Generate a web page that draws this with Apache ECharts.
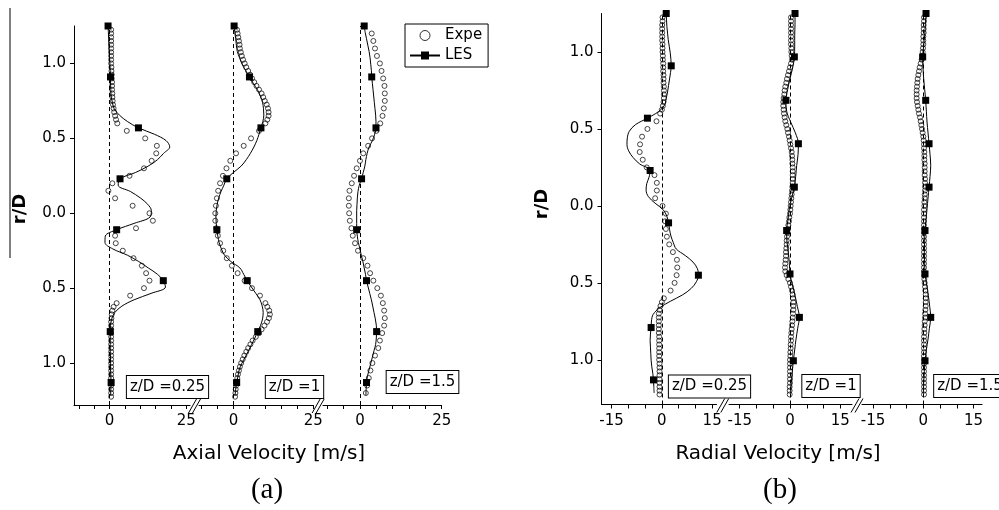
<!DOCTYPE html>
<html>
<head>
<meta charset="utf-8">
<script src="https://cdn.jsdelivr.net/npm/echarts@6/dist/echarts.min.js"></script>
<style>
  html, body { margin: 0; padding: 0; background: #fff; }
  #chart { width: 999px; height: 510px; }
</style>
</head>
<body>
<div id="chart"></div>
<script>
// ---- radial stations (r/D) ----
// experimental stations: fine near the edges, coarser across the jet
const expR_fine = [1.225,1.2,1.175,1.15,1.125,1.1,1.075,1.05,1.025,1.0,0.975,0.95,0.925,0.9,0.875,0.85,0.825,0.8,0.775,0.75,0.725,0.7,0.675,0.65,0.625,
  0.6,0.55,0.5,0.45,0.4,0.35,0.3,0.25,0.2,0.15,0.1,0.05,0,-0.05,-0.1,-0.15,-0.2,-0.25,-0.3,-0.35,-0.4,-0.45,-0.5,-0.55,-0.6,
  -0.625,-0.65,-0.675,-0.7,-0.725,-0.75,-0.775,-0.8,-0.825,-0.85,-0.875,-0.9,-0.925,-0.95,-0.975,-1.0,-1.025,-1.05,-1.075,-1.1,-1.125,-1.15,-1.175,-1.2,-1.225];
const expR_coarse = [1.2,1.15,1.1,1.05,1.0,0.95,0.9,0.85,0.8,0.75,0.7,0.65,0.6,0.55,0.5,0.45,0.4,0.35,0.3,0.25,0.2,0.15,0.1,0.05,0,
  -0.05,-0.1,-0.15,-0.2,-0.25,-0.3,-0.35,-0.4,-0.45,-0.5,-0.55,-0.6,-0.65,-0.7,-0.75,-0.8,-0.85,-0.9,-0.95,-1.0,-1.05,-1.1,-1.15,-1.2];
const expR_dense = [1.225,1.2,1.175,1.15,1.125,1.1,1.075,1.05,1.025,1.0,0.975,0.95,0.925,0.9,0.875,0.85,0.825,0.8,0.775,0.75,
  0.725,0.7,0.675,0.65,0.625,0.6,0.575,0.55,0.525,0.5,0.475,0.45,0.425,0.4,0.375,0.35,0.325,0.3,0.275,0.25,
  0.225,0.2,0.175,0.15,0.125,0.1,0.075,0.05,0.025,0,-0.025,-0.05,-0.075,-0.1,-0.125,-0.15,-0.175,-0.2,-0.225,-0.25,
  -0.275,-0.3,-0.325,-0.35,-0.375,-0.4,-0.425,-0.45,-0.475,-0.5,-0.525,-0.55,-0.575,-0.6,-0.625,-0.65,-0.675,-0.7,-0.725,-0.75,
  -0.775,-0.8,-0.825,-0.85,-0.875,-0.9,-0.925,-0.95,-0.975,-1.0,-1.025,-1.05,-1.075,-1.1,-1.125,-1.15,-1.175,-1.2,-1.225];
// LES stations (a square marker on every 8th / 4th station)
const lesR_a = [1.25,1.2075,1.165,1.1225,1.08,1.0375,0.995,0.9525,0.91,0.8675,0.825,0.7825,0.74,0.6975,0.655,0.6125,0.57,0.5275,0.485,0.4425,
  0.4,0.3575,0.315,0.2725,0.23,0.1875,0.145,0.1025,0.06,0.0175,-0.025,-0.0675,-0.11,-0.1525,-0.195,-0.2375,-0.28,-0.3225,-0.365,-0.4075,
  -0.45,-0.4925,-0.535,-0.5775,-0.62,-0.6625,-0.705,-0.7475,-0.79,-0.8325,-0.875,-0.9175,-0.96,-1.0025,-1.045,-1.0875,-1.13,-1.1725,-1.215];
const lesR_b = [1.25,1.1795,1.109,1.0385,0.968,0.8975,0.827,0.7565,0.686,0.6155,0.545,0.4745,0.404,0.3335,0.263,0.1925,0.122,0.0515,
  -0.019,-0.0895,-0.16,-0.2305,-0.301,-0.3715,-0.442,-0.5125,-0.583,-0.6535,-0.724,-0.7945,-0.865,-0.9355,-1.006,-1.0765,-1.147,-1.2175];

// ---- (a) axial velocity [m/s] ----
const axialExpe025 = [0.5,0.5,0.5,0.5,0.5,0.5,0.5,0.5,0.5,0.5,0.6,0.6,0.7,0.7,0.8,0.8,0.8,0.9,0.9,1.0,1.1,1.3,1.5,1.8,2.1,
  2.5,5.6,11.6,15.4,15.2,13.7,11.2,6.5,0.9,-0.4,1.8,7.5,13.0,14.1,8.6,1.8,2.0,4.3,7.8,10.5,11.9,13.0,11.2,6.7,2.3,
  1.3,0.9,0.7,0.6,0.5,0.5,0.5,0.5,0.5,0.5,0.5,0.5,0.5,0.5,0.5,0.5,0.5,0.5,0.5,0.5,0.5,0.5,0.5,0.5,0.5];
const axialExpe1 = [1.1,1.3,1.5,1.7,1.9,2.0,2.3,2.6,3.0,3.5,4.0,4.6,5.2,5.8,6.5,7.2,8.0,8.8,9.3,9.8,10.4,10.8,11.0,11.0,10.6,
  10.0,8.0,5.5,3.2,0.8,-1.0,-2.2,-3.3,-4.2,-4.8,-5.2,-5.5,-5.7,-5.7,-5.4,-4.9,-4.2,-3.2,-2.1,-0.5,1.3,3.5,5.8,8.3,10.0,
  10.6,11.2,11.4,11.1,10.5,9.7,8.8,8.0,7.0,6.0,5.3,4.6,4.0,3.4,2.9,2.4,2.0,1.7,1.4,1.2,1.0,0.8,0.7,0.6,0.5];
const axialExpe15 = [3.6,4.1,4.6,5.2,6.1,6.6,7.1,7.5,7.6,7.6,7.3,6.9,6.2,5.0,3.7,2.5,1.0,0.0,-1.0,-1.8,-2.5,-3.2,-3.4,-3.4,-3.3,
  -3.1,-2.6,-2.2,-1.5,-0.6,1.0,2.3,3.1,4.1,5.3,6.4,7.0,7.4,7.6,7.4,6.8,6.1,5.6,4.6,3.8,3.2,2.7,2.2,1.8];
const axialLes025 = [-0.5,-0.4,-0.3,-0.2,-0.1,0.0,0.1,0.2,0.3,0.3,0.4,0.5,0.9,1.5,3.2,5.8,9.4,14.6,18.4,19.6,
  17.6,15.6,12.6,8.5,3.4,2.8,6.8,10.0,12.4,13.6,13.2,8.0,2.3,-1.4,-1.5,1.0,5.8,9.5,12.6,15.6,
  17.5,18.2,13.5,8.0,4.0,1.7,0.7,0.3,0.2,0.2,0.2,0.2,0.3,0.3,0.3,0.4,0.5,0.4,0.3];
const axialLes1 = [0.2,0.4,0.7,0.9,1.2,1.9,2.7,3.8,5.0,6.2,7.5,8.4,9.1,9.4,9.5,9.2,8.6,8.0,7.3,6.4,
  5.3,4.0,2.4,0.0,-2.1,-3.0,-3.9,-4.6,-5.1,-5.4,-5.5,-5.4,-5.2,-4.9,-4.5,-3.8,-2.8,-0.8,2.0,3.2,
  4.3,5.6,7.0,8.3,9.0,9.3,9.1,8.5,7.6,6.7,5.7,4.7,3.7,2.6,1.8,1.4,1.0,0.7,0.5];
const axialLes15 = [1.3,1.6,2.0,2.4,2.8,3.1,3.3,3.5,3.6,3.8,4.0,4.2,4.4,4.6,4.8,4.9,4.9,4.5,3.8,2.8,
  2.2,1.8,1.5,1.0,0.5,-0.2,-0.6,-0.8,-0.9,-1.0,-1.0,-1.0,-1.0,-0.8,-0.5,0.0,0.4,0.9,1.3,1.7,
  2.0,2.5,3.0,3.5,3.9,4.3,4.7,5.0,5.1,5.0,4.8,4.3,3.8,3.3,2.8,2.3,2.0,1.9,1.8];

// ---- (b) radial velocity [m/s] ----
const radialExpe025 = [0.2,0.2,0.1,0.1,0.1,0.1,0.1,0.2,0.2,0.2,0.3,0.3,0.4,0.4,0.4,0.5,0.5,0.5,0.6,0.6,0.6,0.6,0.5,0.3,0.0,
  -0.5,-1.6,-4.3,-5.9,-6.5,-6.6,-5.7,-4.5,-2.2,-1.5,-1.5,-2.0,0.2,1.2,1.0,1.2,1.5,2.2,3.3,4.5,4.6,4.4,3.8,2.6,0.6,
  0.0,-0.4,-0.7,-0.9,-0.9,-0.9,-0.9,-0.9,-0.9,-0.8,-0.8,-0.8,-0.8,-0.8,-0.8,-0.8,-0.7,-0.7,-0.7,-0.7,-0.7,-0.7,-0.7,-0.7,-0.7];
const radialExpe1 = [0.3,0.3,0.3,0.3,0.3,0.3,0.3,0.3,0.4,0.4,0.5,0.6,0.3,0.0,-0.3,-0.6,-0.9,-1.1,-1.4,-1.6,
  -1.7,-1.9,-2.0,-2.0,-1.9,-1.8,-1.6,-1.4,-1.1,-0.8,-0.6,-0.3,-0.1,0.1,0.3,0.5,0.6,0.7,0.7,0.8,
  0.8,0.8,0.8,0.8,0.7,0.6,0.5,0.4,0.3,0.2,0.1,0.0,-0.2,-0.3,-0.5,-0.6,-0.8,-0.9,-1.0,-1.0,
  -1.1,-1.2,-1.2,-1.3,-1.4,-1.5,-1.4,-1.0,-0.5,0.0,0.3,0.6,0.8,0.9,1.0,1.0,1.0,0.9,0.8,0.7,
  0.6,0.5,0.4,0.3,0.3,0.2,0.2,0.1,0.1,0.0,0.0,0.0,0.0,0.0,0.0,0.0,-0.1,-0.1,-0.1];
const radialExpe15 = [0.2,0.2,0.1,0.1,0.1,0.0,0.0,0.0,-0.1,-0.2,-0.3,-0.5,-0.8,-1.1,-1.3,-1.5,-1.7,-1.8,-1.9,-2.0,
  -2.0,-2.0,-1.9,-1.7,-1.5,-1.3,-1.0,-0.8,-0.6,-0.4,-0.2,0.0,0.1,0.2,0.2,0.3,0.3,0.3,0.4,0.4,
  0.4,0.4,0.5,0.5,0.5,0.5,0.4,0.4,0.3,0.3,0.2,0.2,0.2,0.2,0.2,0.2,0.2,0.2,0.2,0.2,
  0.2,0.2,0.2,0.2,0.2,0.2,0.2,0.2,0.3,0.4,0.5,0.6,0.7,0.7,0.7,0.7,0.6,0.5,0.5,0.4,
  0.4,0.3,0.3,0.2,0.2,0.2,0.2,0.2,0.2,0.2,0.2,0.2,0.2,0.2,0.2,0.2,0.2,0.2,0.2];
const radialLes025 = [1.3,1.4,1.5,1.7,1.9,2.2,2.5,2.7,2.8,2.6,2.3,2.0,1.7,1.3,0.8,-1.0,-4.3,-7.9,-9.7,-10.3,
  -10.4,-9.9,-8.6,-6.6,-3.5,-3.8,-4.5,-4.7,-4.0,-2.0,0.4,1.5,2.0,2.3,2.7,3.4,4.3,7.0,9.3,10.6,
  10.9,10.3,8.8,6.2,2.5,-0.7,-2.6,-3.1,-3.2,-3.4,-3.5,-3.4,-3.3,-3.2,-3.0,-2.7,-2.5,-2.4,-2.3];
const radialLes1 = [1.5,1.5,1.4,1.4,1.3,0.8,0.0,-0.7,-1.2,-1.0,0.2,1.6,2.5,2.4,2.0,1.7,1.3,0.5,-0.2,-0.6,
  -1.0,-0.9,-0.5,-0.2,0.0,0.7,1.5,2.2,2.8,2.3,1.8,1.4,1.0,0.7,0.4,0.2];
const radialLes15 = [0.8,0.6,0.4,0.1,-0.2,-0.1,0.1,0.4,0.7,0.9,1.1,1.4,1.7,2.0,2.2,2.0,1.7,1.4,1.1,0.8,
  0.5,0.4,0.3,0.4,0.5,1.0,1.5,1.9,2.2,1.8,1.4,0.9,0.5,0.3,0.1,0.0];

// ---- tick labels ----
const stationLabels = ['z/D =0.25', 'z/D =1', 'z/D =1.5'];
const axialTicks = [-10, -5, 0, 5, 10, 15, 20, 25];
const axialTickLabels = [0, 25];
const radialTicks = [-15, -10, -5, 0, 5, 10, 15];
const radialTickLabels = [-15, 0, 15];
const rTicks = [-1, -0.5, 0, 0.5, 1];

// ---- layout of the six profile frames ----
const FONT = 'DejaVu Sans';
const frames = [
  { left: 74,    top: 26,   width: 116,   height: 379, xmin: -11.6, xmax: 26.2, ymin: -1.28, ticks: axialTicks,  labels: axialTickLabels },
  { left: 199,   top: 26,   width: 114.3, height: 379, xmin: -10.8, xmax: 25,   ymin: -1.28, ticks: axialTicks,  labels: axialTickLabels },
  { left: 323,   top: 26,   width: 118.7, height: 379, xmin: -11.3, xmax: 25,   ymin: -1.28, ticks: axialTicks,  labels: axialTickLabels },
  { left: 601.5, top: 13.5, width: 115,   height: 391, xmin: -18,   xmax: 16.3, ymin: -1.29, ticks: radialTicks, labels: radialTickLabels },
  { left: 729,   top: 13.5, width: 123,   height: 391, xmin: -18.2, xmax: 18.5, ymin: -1.29, ticks: radialTicks, labels: radialTickLabels },
  { left: 862,   top: 13.5, width: 120,   height: 391, xmin: -18.3, xmax: 17.5, ymin: -1.29, ticks: radialTicks, labels: radialTickLabels }
];

const profiles = [
  { expR: expR_fine,   expe: axialExpe025,  lesR: lesR_a, les: axialLes025,  every: 8 },
  { expR: expR_fine,   expe: axialExpe1,    lesR: lesR_a, les: axialLes1,    every: 8 },
  { expR: expR_coarse, expe: axialExpe15,   lesR: lesR_a, les: axialLes15,   every: 8 },
  { expR: expR_fine,   expe: radialExpe025, lesR: lesR_a, les: radialLes025, every: 8 },
  { expR: expR_dense,  expe: radialExpe1,   lesR: lesR_b, les: radialLes1,   every: 4 },
  { expR: expR_dense,  expe: radialExpe15,  lesR: lesR_b, les: radialLes15,  every: 4 }
];

const grid = frames.map(f => ({ left: f.left, top: f.top, width: f.width, height: f.height, containLabel: false }));

const xAxis = frames.map((f, i) => ({
  type: 'value', gridIndex: i, min: f.xmin, max: f.xmax,
  axisLine: { show: true, onZero: false, lineStyle: { color: '#000', width: 1 } },
  axisTick: { show: true, length: 4, customValues: f.ticks, lineStyle: { color: '#000', width: 1 } },
  axisLabel: { customValues: f.labels, fontFamily: FONT, fontSize: 15, color: '#000', margin: 9, showMinLabel: true, showMaxLabel: true },
  splitLine: { show: false }
}));

const yAxis = frames.map((f, i) => ({
  type: 'value', gridIndex: i, min: f.ymin, max: 1.25, show: i === 0 || i === 3,
  axisLine: { show: true, onZero: false, lineStyle: { color: '#000', width: 1 } },
  axisTick: { show: true, length: 4, customValues: rTicks, lineStyle: { color: '#000', width: 1 } },
  axisLabel: { customValues: rTicks, formatter: v => Math.abs(v).toFixed(1), fontFamily: FONT, fontSize: 15, color: '#000', margin: 8 },
  splitLine: { show: false }
}));

const series = [];
profiles.forEach((p, i) => {
  series.push({
    type: 'scatter', name: 'Expe', xAxisIndex: i, yAxisIndex: i, z: 3,
    symbol: 'circle', symbolSize: 5,
    itemStyle: { color: 'rgba(255,255,255,0)', borderColor: '#000', borderWidth: 0.9 },
    data: p.expR.map((r, k) => [p.expe[k], r]),
    markLine: {
      silent: true, symbol: ['none', 'none'], label: { show: false },
      lineStyle: { color: '#000', width: 1, type: [4, 3] },
      data: [{ xAxis: 0 }]
    }
  });
  series.push({
    type: 'line', name: 'LES', xAxisIndex: i, yAxisIndex: i, z: 4,
    smooth: 0.35, symbol: 'rect', symbolSize: 7, showSymbol: true, showAllSymbol: true,
    lineStyle: { color: '#000', width: 1 }, itemStyle: { color: '#000' },
    data: p.lesR.map((r, k) => (k % p.every === 0 ? { value: [p.les[k], r] } : { value: [p.les[k], r], symbol: 'none' }))
  });
});

// station captions, axis titles, panel tags and axis breaks
const graphic = [];
const boxes = [
  { x: 167.5, y: 387, text: stationLabels[0] },
  { x: 294.5, y: 387, text: stationLabels[1] },
  { x: 422.5, y: 382, text: stationLabels[2] },
  { x: 709.5, y: 386.5, text: stationLabels[0] },
  { x: 831,   y: 386, text: stationLabels[1] },
  { x: 970,   y: 386, text: stationLabels[2] }
];
boxes.forEach(b => graphic.push({
  type: 'text', x: b.x, y: b.y, z: 10,
  style: { text: b.text, font: '15px "DejaVu Sans"', fill: '#000', align: 'center', verticalAlign: 'middle',
           backgroundColor: '#fff', borderColor: '#000', borderWidth: 1, padding: [4, 3, 3, 3] }
}));
graphic.push(
  { type: 'text', x: 269, y: 454, style: { text: 'Axial Velocity [m/s]', font: '20px "DejaVu Sans"', fill: '#000', align: 'center', verticalAlign: 'middle' } },
  { type: 'text', x: 778, y: 454, style: { text: 'Radial Velocity [m/s]', font: '20px "DejaVu Sans"', fill: '#000', align: 'center', verticalAlign: 'middle' } },
  { type: 'text', x: 267, y: 490, style: { text: '(a)', font: '29px "Liberation Serif"', fill: '#000', align: 'center', verticalAlign: 'middle' } },
  { type: 'text', x: 780, y: 490, style: { text: '(b)', font: '29px "Liberation Serif"', fill: '#000', align: 'center', verticalAlign: 'middle' } },
  { type: 'text', x: 20, y: 209, rotation: Math.PI / 2, style: { text: 'r/D', font: 'bold 18px "DejaVu Sans"', fill: '#000', align: 'center', verticalAlign: 'middle' } },
  { type: 'text', x: 542, y: 204, rotation: Math.PI / 2, style: { text: 'r/D', font: 'bold 18px "DejaVu Sans"', fill: '#000', align: 'center', verticalAlign: 'middle' } },
  { type: 'line', shape: { x1: 10, y1: 8, x2: 10, y2: 258 }, style: { stroke: '#000', lineWidth: 1 } }
);
// "//" marks between neighbouring frames of the same panel
[[0, 1], [1, 2], [3, 4], [4, 5]].forEach(([a, b]) => {
  const fa = frames[a], fb = frames[b];
  const mid = (fa.left + fa.width + fb.left) / 2;
  const yb = fa.top + fa.height;
  graphic.push(
    { type: 'line', z: 12, shape: { x1: mid - 6, y1: yb + 8, x2: mid + 2, y2: yb - 6 }, style: { stroke: '#000', lineWidth: 1 } },
    { type: 'line', z: 12, shape: { x1: mid - 2, y1: yb + 8, x2: mid + 6, y2: yb - 6 }, style: { stroke: '#000', lineWidth: 1 } }
  );
});

const chart = echarts.init(document.getElementById('chart'), null, { renderer: 'canvas' });
chart.setOption({
  animation: false,
  backgroundColor: '#fff',
  grid, xAxis, yAxis, series, graphic,
  legend: {
    data: [
      { name: 'Expe', icon: 'circle', itemStyle: { color: '#fff', borderColor: '#000', borderWidth: 1 } },
      { name: 'LES' }
    ],
    orient: 'vertical', left: 405, top: 24,
    padding: [4, 6, 4, 4], itemGap: 5, itemWidth: 30, itemHeight: 10,
    borderColor: '#000', borderWidth: 1, borderRadius: 0, backgroundColor: '#fff',
    textStyle: { fontFamily: FONT, fontSize: 15, color: '#000' }
  }
});
</script>
</body>
</html>
